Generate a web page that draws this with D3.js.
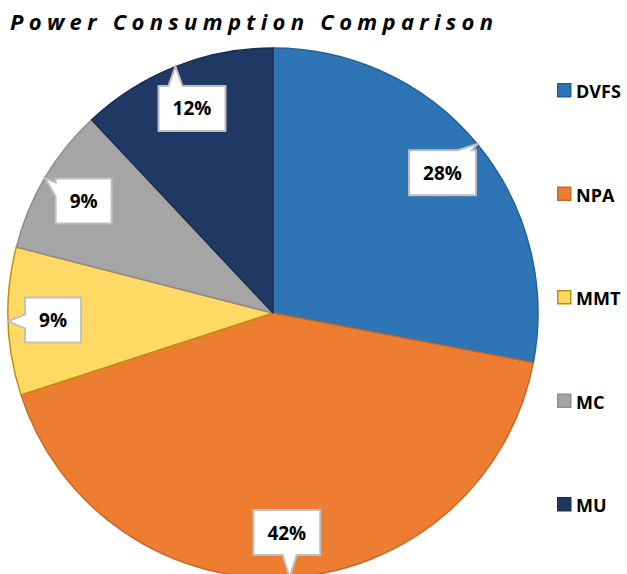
<!DOCTYPE html>
<html>
<head>
<meta charset="utf-8">
<script src="https://cdn.jsdelivr.net/npm/d3@7"></script>
<style>
  body { margin: 0; background: #fff; }
  svg { display: block; }
</style>
</head>
<body>
<div id="container"></div>
<script>
const categories = ['DVFS', 'NPA', 'MMT', 'MC', 'MU']
const values = [28, 42, 9, 9, 12]
const labels = ['28%', '42%', '9%', '9%', '12%']
const fills = ['#2E75B6', '#ED7D31', '#FFD966', '#A5A5A5', '#203864']
const strokes = ['#24609A', '#C8682A', '#BF9000', '#8E8E8E', '#1A2E52']

const width = 627
const height = 574
const cx = 273
const cy = 313
const radius = 265
const labelRadius = 220
const fontFam = '"Open Sans", Lato, sans-serif'

const svg = d3.select('#container')
  .append('svg')
  .attr('width', width)
  .attr('height', height)

// title
svg.append('text')
  .attr('x', 10)
  .attr('y', 30)
  .attr('textLength', 483)
  .attr('lengthAdjust', 'spacing')
  .style('font-family', fontFam)
  .style('font-weight', 'bold')
  .style('font-style', 'italic')
  .style('font-size', '22px')
  .style('fill', '#000')
  .text('Power Consumption Comparison')

const pie = d3.pie().sort(null).value(d => d)
const arcs = pie(values)
const arc = d3.arc().innerRadius(0).outerRadius(radius)

const g = svg.append('g').attr('transform', `translate(${cx},${cy})`)

g.selectAll('path.slice')
  .data(arcs)
  .enter()
  .append('path')
  .attr('class', 'slice')
  .attr('d', arc)
  .attr('fill', (d, i) => fills[i])
  .attr('stroke', (d, i) => strokes[i])
  .attr('stroke-width', 1.5)
  .attr('stroke-linejoin', 'round')

// callout path: rect with a pointer towards tip
const calloutPath = (x0, y0, x1, y1, tx, ty) => {
  const mx = (x0 + x1) / 2, my = (y0 + y1) / 2
  const hw = (x1 - x0) / 2, hh = (y1 - y0) / 2
  const dx = (tx - mx) / hw, dy = (ty - my) / hh
  const clamp = (v, a, b) => Math.max(a, Math.min(b, v))
  const bw = 14
  let pts = []
  if (Math.abs(dy) >= Math.abs(dx)) {
    const b = clamp(tx - bw / 2, x0 + 4, x1 - bw - 4)
    if (dy < 0) {
      pts = [[x0, y0], [b, y0], [tx, ty], [b + bw, y0], [x1, y0], [x1, y1], [x0, y1]]
    } else {
      pts = [[x0, y0], [x1, y0], [x1, y1], [b + bw, y1], [tx, ty], [b, y1], [x0, y1]]
    }
  } else {
    const b = clamp(ty - bw / 2, y0 + 4, y1 - bw - 4)
    if (dx < 0) {
      pts = [[x0, y0], [x1, y0], [x1, y1], [x0, y1], [x0, b + bw], [tx, ty], [x0, b]]
    } else {
      pts = [[x0, y0], [x1, y0], [x1, b], [tx, ty], [x1, b + bw], [x1, y1], [x0, y1]]
    }
  }
  return 'M' + pts.map(p => p.join(',')).join('L') + 'Z'
}

const boxH = 45
const labelG = svg.append('g')
arcs.forEach((d, i) => {
  const mid = (d.startAngle + d.endAngle) / 2
  const tx = cx + radius * Math.sin(mid)
  const ty = cy - radius * Math.cos(mid)
  const lx = cx + labelRadius * Math.sin(mid)
  const ly = cy - labelRadius * Math.cos(mid)

  const t = labelG.append('text')
    .attr('x', lx)
    .attr('y', ly)
    .attr('text-anchor', 'middle')
    .attr('dominant-baseline', 'central')
    .style('font-family', fontFam)
    .style('font-weight', 'bold')
    .style('font-size', '19px')
    .style('fill', '#000')
    .text(labels[i])
  const tw = t.node().getComputedTextLength()
  const bw = tw + 28
  const x0 = lx - bw / 2, x1 = lx + bw / 2
  const y0 = ly - boxH / 2, y1 = ly + boxH / 2
  labelG.insert('path', 'text')
    .attr('d', calloutPath(x0, y0, x1, y1, tx, ty))
    .attr('fill', '#fff')
    .attr('stroke', '#BFBFBF')
    .attr('stroke-width', 2)
})

// legend
const legendY = d3.scalePoint()
  .domain(categories)
  .range([90, 504])

const legend = svg.append('g')
  .selectAll('g')
  .data(categories)
  .enter()
  .append('g')
  .attr('transform', d => `translate(557, ${legendY(d)})`)

legend.append('rect')
  .attr('x', 0.75)
  .attr('y', -6.25)
  .attr('width', 13)
  .attr('height', 13)
  .attr('fill', (d, i) => fills[i])
  .attr('stroke', (d, i) => strokes[i])
  .attr('stroke-width', 1.5)

legend.append('text')
  .attr('x', 19)
  .attr('y', 1)
  .attr('dominant-baseline', 'central')
  .style('font-family', fontFam)
  .style('font-weight', 'bold')
  .style('font-size', '18px')
  .style('fill', '#000')
  .text(d => d)
</script>
</body>
</html>
